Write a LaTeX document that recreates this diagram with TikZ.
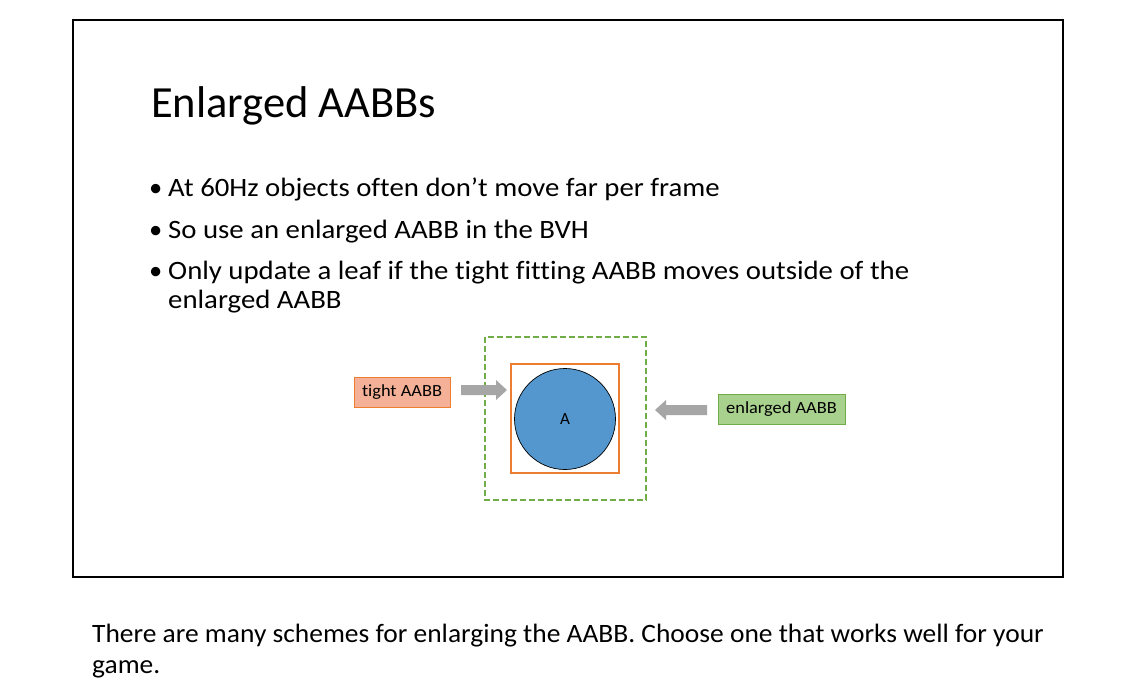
\documentclass[tikz,border=0pt]{standalone}
\usepackage{graphicx}
\usepackage{fontspec}
\setmainfont{Carlito}[Ligatures=NoCommon]
\newcommand{\stretchtxt}[2]{\scalebox{#1}[1]{#2}}
\begin{document}
\begin{tikzpicture}[x=1pt,y=-1pt,
  txt/.style={anchor=base west,inner sep=0pt,font=\fontsize{26.5}{30}\selectfont},
  lbl/.style={draw,line width=0.8pt,inner sep=0pt,minimum height=30pt,font=\fontsize{17}{20}\selectfont},
  blockarrow/.style={fill=black!35,draw=none}]
\useasboundingbox (0,0) rectangle (1143,699);
\fill[white] (0,0) rectangle (1143,699);
\draw[line width=1.8pt] (73,20) rectangle (1063,577);
\node[anchor=base west,inner sep=0pt,font=\fontsize{44.5}{50}\selectfont] (title) at (151,117) {Enlarged AABBs};
\node[txt] (b1) at (149,196) {\textbullet};
\node[txt] (t1) at (168,196) {\stretchtxt{1.086}{At 60Hz objects often don’t move far per frame}};
\node[txt] (b2) at (149,238) {\textbullet};
\node[txt] (t2) at (168,238) {\stretchtxt{1.086}{So use an enlarged AABB in the BVH}};
\node[txt] (b3) at (149,279) {\textbullet};
\node[txt] (t3) at (168,279) {\stretchtxt{1.086}{Only update a leaf if the tight fitting AABB moves outside of the}};
\node[txt] (t4) at (168,308) {\stretchtxt{1.086}{enlarged AABB}};
% diagram
\draw[draw={rgb,255:red,112;green,173;blue,71},line width=1.4pt,dash pattern=on 6pt off 3pt] (485,337) rectangle (646,500);
\draw[draw={rgb,255:red,237;green,125;blue,49},line width=2pt] (511,364) rectangle (619,473);
\node[circle,draw=black,line width=0.7pt,fill={rgb,255:red,83;green,151;blue,206},minimum size=101pt,inner sep=0pt,font=\fontsize{17}{20}\selectfont] (A) at (565,419) {A};
\node[lbl,draw={rgb,255:red,237;green,125;blue,49},fill={rgb,255:red,244;green,177;blue,151},minimum width=96pt] (tight) at (402,392) {\stretchtxt{1.08}{tight AABB}};
\node[lbl,draw={rgb,255:red,112;green,173;blue,71},fill={rgb,255:red,169;green,209;blue,142},minimum width=127pt] (enl) at (781.5,409.5) {\stretchtxt{1.08}{enlarged AABB}};
\fill[blockarrow] (461,385) -- (496,385) -- (496,380) -- (507,390) -- (496,400) -- (496,395) -- (461,395) -- cycle;
\fill[blockarrow] (707,405) -- (666,405) -- (666,400) -- (655,410) -- (666,420) -- (666,415) -- (707,415) -- cycle;
% bottom text
\node[anchor=base west,inner sep=0pt,font=\fontsize{26.5}{31}\selectfont] (n1) at (92,642) {\stretchtxt{1.036}{There are many schemes for enlarging the AABB. Choose one that works well for your}};
\node[anchor=base west,inner sep=0pt,font=\fontsize{26.5}{31}\selectfont] (n2) at (92,673) {\stretchtxt{1.036}{game.}};
\end{tikzpicture}
\end{document}
